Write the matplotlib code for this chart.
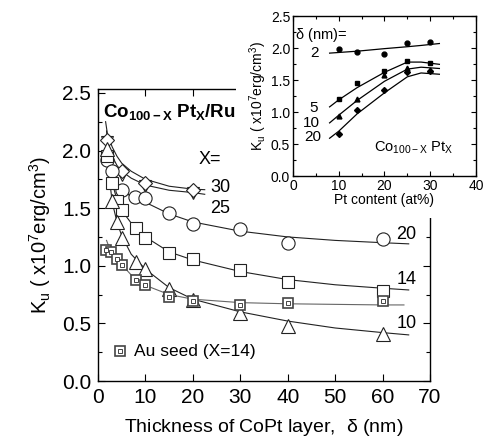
import matplotlib
matplotlib.use('Agg')
import matplotlib.pyplot as plt
from matplotlib.patches import Rectangle
from matplotlib.ticker import MultipleLocator

plt.rcParams['font.family'] = ['Liberation Sans', 'DejaVu Sans']
plt.rcParams['mathtext.fontset'] = 'custom'
plt.rcParams['mathtext.rm'] = 'Liberation Sans'
plt.rcParams['mathtext.it'] = 'Liberation Sans'
plt.rcParams['mathtext.bf'] = 'Liberation Sans:bold'

# main panel: Ku vs CoPt thickness (nm), measured points
x30 = [2, 5, 10, 20]
k30 = [2.095, 1.82, 1.72, 1.66]
x25 = [2, 5, 10, 20]
k25 = [2.07, 1.79, 1.69, 1.635]
x20 = [1.8, 2.9, 5, 7.8, 10, 15, 20, 30, 40, 60]
k20 = [1.92, 1.82, 1.66, 1.60, 1.59, 1.455, 1.36, 1.32, 1.20, 1.23]
x14 = [2, 3, 4, 5, 8, 10, 15, 20, 30, 40, 60]
k14 = [1.95, 1.72, 1.56, 1.48, 1.325, 1.24, 1.11, 1.055, 0.96, 0.855, 0.78]
x10 = [1.8, 3, 4, 5, 8, 10, 15, 20, 30, 40, 60]
k10 = [2.01, 1.56, 1.38, 1.24, 1.035, 0.975, 0.80, 0.70, 0.59, 0.48, 0.41]
xau = [1.6, 2.7, 3.9, 5.1, 8, 10, 15, 20, 30, 40, 60]
kau = [1.14, 1.115, 1.055, 1.01, 0.877, 0.833, 0.73, 0.695, 0.66, 0.675, 0.69]

# fitted curves
cx30 = [1.6, 2, 3, 4, 5, 7, 10, 15, 20, 22.5]
cy30 = [2.25, 2.14, 2.03, 1.95, 1.89, 1.82, 1.75, 1.69, 1.665, 1.66]
cx25 = [1.8, 2, 3, 4, 5, 7, 10, 15, 20, 22.5]
cy25 = [2.17, 2.08, 1.95, 1.87, 1.82, 1.76, 1.70, 1.655, 1.635, 1.62]
cx20 = [1.6, 2, 3, 4, 5, 7, 10, 15, 20, 30, 40, 50, 60, 65.5]
cy20 = [2.05, 1.95, 1.81, 1.72, 1.66, 1.60, 1.55, 1.45, 1.38, 1.30, 1.25, 1.22, 1.20, 1.19]
cx14 = [1.8, 2, 3, 4, 5, 7, 10, 15, 20, 30, 40, 50, 60, 65.5]
cy14 = [2.05, 1.94, 1.72, 1.57, 1.48, 1.37, 1.25, 1.12, 1.05, 0.95, 0.88, 0.835, 0.805, 0.79]
cx10 = [1.7, 2, 3, 4, 5, 7, 10, 15, 20, 30, 40, 50, 60, 65.5]
cy10 = [2.12, 1.90, 1.55, 1.38, 1.26, 1.10, 0.97, 0.81, 0.71, 0.60, 0.52, 0.46, 0.42, 0.40]
cxau = [1.8, 2.7, 4, 5, 7, 10, 15, 20, 30, 40, 50, 60, 64.5]
cyau = [1.22, 1.12, 1.05, 1.01, 0.92, 0.83, 0.75, 0.71, 0.68, 0.67, 0.665, 0.66, 0.66]

# inset: Ku vs Pt content (at%)
pt = [10, 14, 20, 25, 30]
d2 = [1.98, 1.94, 1.90, 2.08, 2.09]
d5 = [1.20, 1.46, 1.64, 1.80, 1.76]
d10 = [0.94, 1.20, 1.58, 1.69, 1.66]
d20 = [0.66, 1.03, 1.34, 1.63, 1.64]
fpt = [8, 10, 14, 20, 25, 28, 32]
f2 = [1.92, 1.93, 1.95, 1.99, 2.02, 2.04, 2.07]
f5 = [1.08, 1.19, 1.38, 1.62, 1.78, 1.78, 1.745]
f10 = [0.83, 0.95, 1.18, 1.48, 1.67, 1.70, 1.68]
f20 = [0.59, 0.70, 0.97, 1.30, 1.55, 1.61, 1.59]

fig = plt.figure(figsize=(4.84, 4.42), dpi=100)
ax = fig.add_axes([0.2025, 0.138, 0.686, 0.661])

lw = 0.8
ax.plot(cx30, cy30, color='#222222', lw=lw)
ax.plot(cx25, cy25, color='#222222', lw=lw)
ax.plot(cx20, cy20, color='#222222', lw=lw)
ax.plot(cx14, cy14, color='#222222', lw=lw)
ax.plot(cx10, cy10, color='#222222', lw=lw)
ax.plot(cxau, cyau, color='#666666', lw=lw)

mk = dict(mfc='white', mec='#222222', mew=0.8, ls='none')
ax.plot(x25, k25, marker='v', ms=8.5, **mk)
ax.plot(x30, k30, marker='D', ms=7.5, **mk)
ax.plot(x20, k20, marker='o', ms=9.5, **mk)
ax.plot(x14, k14, marker='s', ms=8.5, **mk)
ax.plot(x10, k10, marker='^', ms=9.5, **mk)
ax.plot(xau, kau, marker='s', ms=7, mfc='white', mec='#444444', mew=1.2, ls='none')
ax.plot(xau, kau, marker='s', ms=2.5, mfc='white', mec='#444444', mew=0.7, ls='none')

# legend-like entry for Au seed
ax.plot([4.6], [0.26], marker='s', ms=7, mfc='white', mec='#444444', mew=1.2)
ax.plot([4.6], [0.26], marker='s', ms=2.5, mfc='white', mec='#444444', mew=0.7)
ax.text(7.6, 0.26, 'Au seed (X=14)', fontsize=12.5, va='center', ha='left')

ax.text(1.0, 2.335, r'Co$_{\mathbf{100-X}}$ Pt$_{\mathbf{X}}$/Ru', fontsize=13.5,
        fontweight='bold', va='center', ha='left')
ax.text(23.5, 1.92, 'X=', fontsize=13, ha='center', va='center')
ax.text(25.8, 1.68, '30', fontsize=13, ha='center', va='center')
ax.text(25.8, 1.50, '25', fontsize=13, ha='center', va='center')
ax.text(65.0, 1.27, '20', fontsize=13, ha='center', va='center')
ax.text(65.0, 0.88, '14', fontsize=13, ha='center', va='center')
ax.text(65.0, 0.50, '10', fontsize=13, ha='center', va='center')

ax.set_xlim(0, 70)
ax.set_ylim(0, 2.535)
ax.xaxis.set_major_locator(MultipleLocator(10))
ax.yaxis.set_minor_locator(MultipleLocator(0.25))
ax.set_yticks([0, 0.5, 1.0, 1.5, 2.0, 2.5])
ax.set_yticklabels(['0.0', '0.5', '1.0', '1.5', '2.0', '2.5'])
ax.tick_params(which='both', direction='in', top=True, right=True, labelsize=15, width=0.8)
ax.tick_params(which='major', length=5, pad=5)
ax.tick_params(which='minor', length=3)
for s in ax.spines.values():
    s.set_linewidth(1.0)
ax.set_xlabel(r'Thickness of CoPt layer,  $\delta$ (nm)', fontsize=14, labelpad=7)
ax.set_ylabel(r'K$_\mathrm{u}$ ( x10$^\mathrm{7}$erg/cm$^\mathrm{3}$)', fontsize=14.5, labelpad=6)

# white patch behind the inset
fig.add_artist(Rectangle((0.488, 0.507), 0.52, 0.5, transform=fig.transFigure,
                         facecolor='white', edgecolor='none', zorder=1))

ins = fig.add_axes([0.6054, 0.6018, 0.378, 0.362])
ins.set_zorder(2)
ins.plot(fpt, f2, color='black', lw=0.9)
ins.plot(fpt, f5, color='black', lw=0.9)
ins.plot(fpt, f10, color='black', lw=0.9)
ins.plot(fpt, f20, color='black', lw=0.9)
ins.plot(pt, d2, 'o', color='black', ms=3.5)
ins.plot(pt, d5, 's', color='black', ms=3.5)
ins.plot(pt, d10, '^', color='black', ms=3.5)
ins.plot(pt, d20, 'D', color='black', ms=3)
ins.set_xlim(0, 40)
ins.set_ylim(0, 2.5)
ins.xaxis.set_major_locator(MultipleLocator(10))
ins.xaxis.set_minor_locator(MultipleLocator(5))
ins.set_yticks([0, 0.5, 1.0, 1.5, 2.0, 2.5])
ins.set_yticklabels(['0.0', '0.5', '1.0', '1.5', '2.0', '2.5'])
ins.yaxis.set_minor_locator(MultipleLocator(0.25))
ins.tick_params(which='both', direction='in', top=True, right=True, labelsize=10, width=0.8, pad=2)
ins.tick_params(which='major', length=3.5)
ins.tick_params(which='minor', length=2)
for s in ins.spines.values():
    s.set_linewidth(1.0)
ins.set_xlabel('Pt content (at%)', fontsize=10, labelpad=0)
ins.set_ylabel(r'K$_\mathrm{u}$ ( x10$^\mathrm{7}$erg/cm$^\mathrm{3}$)', fontsize=10, labelpad=1)
ins.text(0.5, 2.2, r'$\delta$ (nm)=', fontsize=10.5, ha='left', va='center')
ins.text(4.6, 1.92, '2', fontsize=11, ha='center', va='center')
ins.text(4.6, 1.06, '5', fontsize=11, ha='center', va='center')
ins.text(4.0, 0.83, '10', fontsize=11, ha='center', va='center')
ins.text(4.3, 0.61, '20', fontsize=11, ha='center', va='center')
ins.text(26.3, 0.44, r'Co$_\mathrm{100-X}$ Pt$_\mathrm{X}$', fontsize=10.5, ha='center', va='center')

fig.savefig('out.png', dpi=100, facecolor='white')
